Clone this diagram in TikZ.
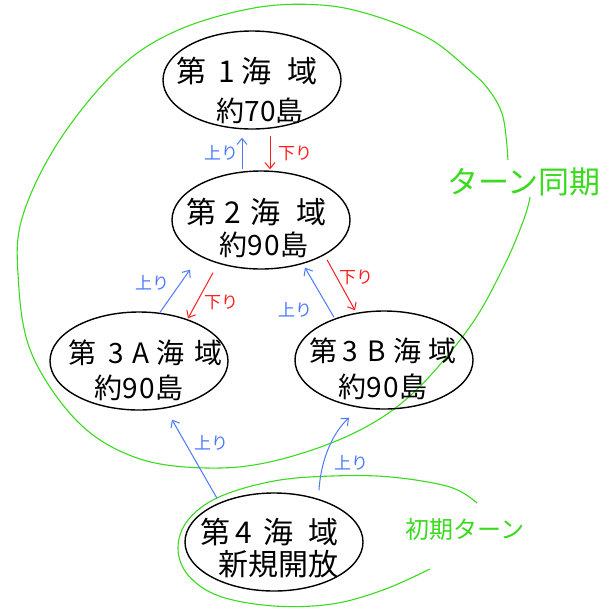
\documentclass[tikz,border=0pt]{standalone}
\usepackage{fontspec}
\newfontfamily\jp{Noto Sans CJK JP}
\usetikzlibrary{shapes.geometric,arrows.meta,calc}
\definecolor{hblue}{HTML}{4A7BFF}
\definecolor{hred}{HTML}{FF1E1E}
\definecolor{hgreen}{HTML}{3ADB1E}
\newcommand\cellc[2]{\makebox[#1][c]{#2}}
\begin{document}
\begin{tikzpicture}[x=1pt,y=-1pt,
 region/.style={ellipse, draw=black, line width=1.4pt, minimum width=178pt, minimum height=98pt, inner sep=0pt},
 bigtxt/.style={font=\jp\fontsize{30}{32}\selectfont, inner sep=0pt},
 midtxt/.style={font=\jp\fontsize{28}{30}\selectfont, inner sep=0pt},
 smalltxt/.style={font=\jp\fontsize{28}{30}\selectfont, inner sep=0pt},
 tag/.style={font=\jp\fontsize{17}{18}\selectfont, inner sep=0pt},
 uparr/.style={hblue, line width=1pt, -{Straight Barb[length=6pt,width=10pt]}},
 downarr/.style={hred, line width=1pt, -{Straight Barb[length=6pt,width=10pt]}},
 sync/.style={hgreen, line width=1.1pt},
 grntxt/.style={hgreen, inner sep=0pt},
]
\useasboundingbox (0,0) rectangle (610,614);
\fill[white] (0,0) rectangle (610,614);

% green groupings
\draw[sync] plot[smooth, tension=0.6] coordinates {(508,160) (503,117) (489,90) (469,70) (430,39) (375,16) (321,5) (254,8) (176,31) (117,70) (59,141) (23,215) (18,274) (31,352) (78,422) (137,458) (207,468) (274,461) (352,434) (411,395) (469,328) (504,266) (524,219) (530,197)};
\draw[sync] plot[smooth, tension=0.6] coordinates {(477,503) (450,487) (391,477) (332,476) (274,481) (219,497) (188,520) (178,548) (188,575) (219,596) (274,606) (332,604) (383,590) (430,569)};
\node[grntxt, font=\jp\fontsize{31}{33}\selectfont] (sync) at (524,182) {ターン同期};
\node[grntxt, font=\jp\fontsize{24}{26}\selectfont] (init) at (465,529) {初期ターン};

% regions
\node[region] (n1) at (252,80) {};
\node[region] (n2) at (261,220) {};
\node[region] (n3a) at (139,361) {};
\node[region] (n3b) at (384,360) {};
\node[region] (n4) at (274,542) {};

\node[bigtxt] (n1a) at (255,71) {\cellc{36pt}{第}\cellc{36pt}{1}\cellc{24pt}{海}\cellc{68pt}{域}};
\node[smalltxt] (n1b) at (260,111) {約\cellc{16pt}{7}\cellc{16pt}{0}島};
\node[bigtxt] (n2a) at (263,212) {\cellc{32pt}{第}\cellc{32pt}{2}\cellc{34pt}{海}\cellc{58pt}{域}};
\node[smalltxt] (n2b) at (264,245) {約\cellc{17pt}{9}\cellc{17pt}{0}島};
\node[midtxt] (n3aa) at (145,353) {\cellc{40pt}{第}\cellc{28pt}{3}\cellc{22pt}{A}\cellc{38pt}{海}\cellc{38pt}{域}};
\node[smalltxt] (n3ab) at (139,388) {約\cellc{17pt}{9}\cellc{17pt}{0}島};
\node[midtxt] (n3ba) at (385,351) {\cellc{30pt}{第}\cellc{24pt}{3}\cellc{30pt}{B}\cellc{30pt}{海}\cellc{40pt}{域}};
\node[smalltxt] (n3bb) at (383,387) {約\cellc{17pt}{9}\cellc{17pt}{0}島};
\node[bigtxt] (n4a) at (273,532) {\cellc{30pt}{第}\cellc{28pt}{4}\cellc{42pt}{海}\cellc{46pt}{域}};
\node[bigtxt] (n4b) at (278,564) {新規開放};

% connectors
\draw[uparr] ($(n2.north)+(-19,-1)$) -- ($(n1.south)+(-10,8)$);
\draw[downarr] ($(n1.south)+(18,6)$) -- ($(n2.north)+(9,-1)$);
\draw[uparr] ($(n3a.north)+(21,1)$) -- ($(n2.south)+(-71,0)$);
\draw[downarr] ($(n2.south)+(-48,3)$) -- ($(n3a.north)+(49,7)$);
\draw[uparr] ($(n3b.north)+(-50,7)$) -- ($(n2.south)+(44,-2)$);
\draw[downarr] ($(n2.south)+(66,-10)$) -- ($(n3b.north)+(-29,0)$);
\draw[uparr] ($(n4.north)+(-57,6)$) -- ($(n3a.south)+(33,9)$);
\draw[uparr] ($(n4.north)+(45,-2)$) .. controls ($(n4.north)+(47,-35)$) and ($(n3b.south)+(-50,22)$) .. ($(n3b.south)+(-35,8)$);

% connector labels
\node[tag, hblue] (l1) at (221,153) {上り};
\node[tag, hred] (l2) at (295,153) {下り};
\node[tag, hblue] (l3) at (152,283) {上り};
\node[tag, hred] (l4) at (221,302) {下り};
\node[tag, hblue] (l5) at (295,310) {上り};
\node[tag, hred] (l6) at (356,277) {下り};
\node[tag, hblue] (l7) at (211,443) {上り};
\node[tag, hblue] (l8) at (351,463) {上り};
\end{tikzpicture}
\end{document}
